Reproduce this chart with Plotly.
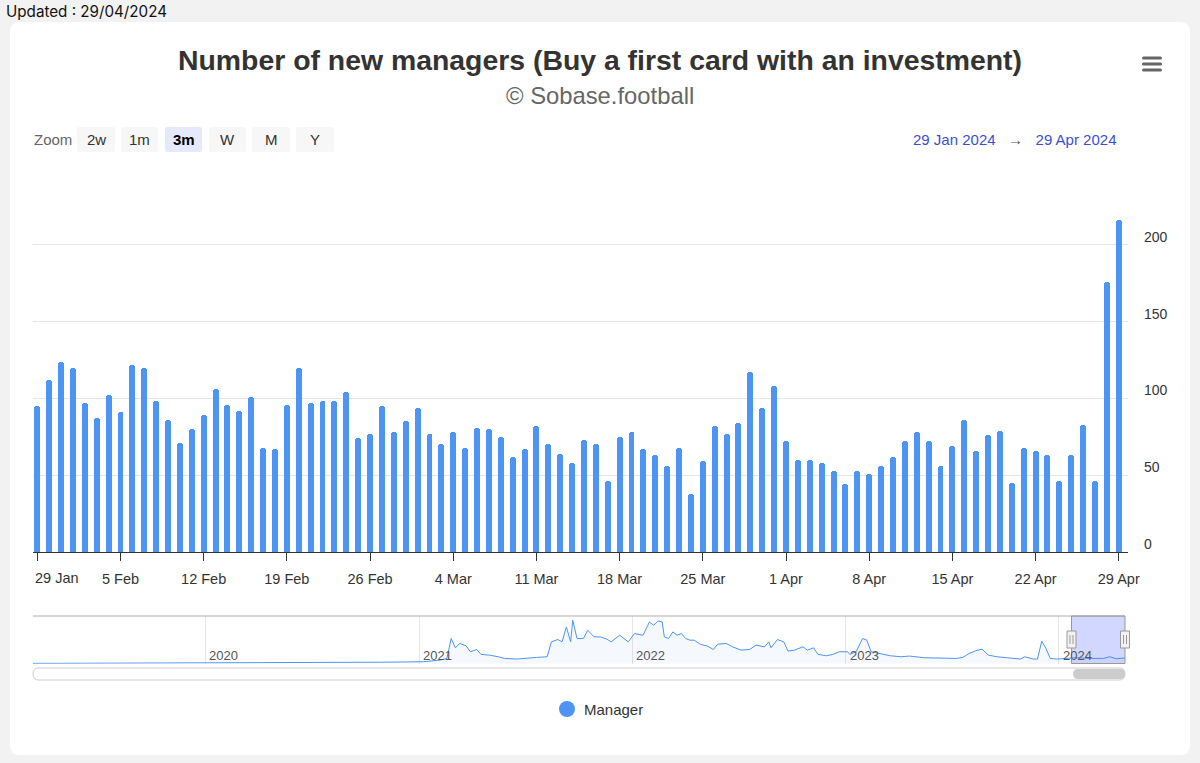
import plotly.graph_objects as go
import pandas as pd
from datetime import datetime, timedelta

W, H = 1200, 763

# ---------------- data ----------------
START_DATE = "2024-01-29"
END_DATE = "2024-04-29"
managers = [95, 112, 124, 120, 97, 87, 102, 91, 122, 120, 98, 86, 71, 80, 89, 106,
            96, 92, 101, 68, 67, 96, 120, 97, 98, 98, 104, 74, 77, 95, 78, 85,
            94, 77, 70, 78, 68, 81, 80, 75, 62, 67, 82, 70, 64, 58, 73, 70,
            46, 75, 78, 67, 63, 56, 68, 38, 59, 82, 77, 84, 117, 94, 108, 72,
            60, 60, 58, 53, 44, 53, 51, 56, 62, 72, 78, 72, 56, 69, 86, 66,
            76, 79, 45, 68, 66, 63, 46, 63, 83, 46, 176, 216]
week_ticks = ["2024-01-29", "2024-02-05", "2024-02-12", "2024-02-19", "2024-02-26",
              "2024-03-04", "2024-03-11", "2024-03-18", "2024-03-25", "2024-04-01",
              "2024-04-08", "2024-04-15", "2024-04-22", "2024-04-29"]
week_labels = ["29 Jan", "5 Feb", "12 Feb", "19 Feb", "26 Feb", "4 Mar", "11 Mar",
               "18 Mar", "25 Mar", "1 Apr", "8 Apr", "15 Apr", "22 Apr", "29 Apr"]
y_ticks = [0, 50, 100, 150, 200, 250]
y_ticktext = ["0", "50", "100", "150", "200", ""]

# navigator (overview since 2019): decimal year, value
nav_year = [2019.19, 2019.60, 2020.00, 2020.44, 2020.82, 2020.96, 2021.02, 2021.10,
            2021.13, 2021.15, 2021.17, 2021.19, 2021.22, 2021.24, 2021.27, 2021.29,
            2021.33, 2021.37, 2021.40, 2021.46, 2021.51, 2021.55, 2021.60, 2021.62,
            2021.65, 2021.67, 2021.69, 2021.71, 2021.72, 2021.74, 2021.77, 2021.79,
            2021.82, 2021.85, 2021.88, 2021.90, 2021.94, 2021.96, 2021.98, 2022.01,
            2022.05, 2022.08, 2022.10, 2022.12, 2022.14, 2022.15, 2022.17, 2022.19,
            2022.21, 2022.23, 2022.25, 2022.27, 2022.29, 2022.32, 2022.35, 2022.38,
            2022.40, 2022.44, 2022.47, 2022.51, 2022.55, 2022.58, 2022.62, 2022.64,
            2022.65, 2022.68, 2022.71, 2022.73, 2022.76, 2022.80, 2022.82, 2022.85,
            2022.87, 2022.91, 2022.94, 2022.97, 2023.01, 2023.02, 2023.05, 2023.08,
            2023.10, 2023.12, 2023.16, 2023.21, 2023.26, 2023.30, 2023.37, 2023.44,
            2023.52, 2023.55, 2023.58, 2023.61, 2023.64, 2023.67, 2023.71, 2023.76,
            2023.82, 2023.84, 2023.88, 2023.90, 2023.92, 2023.94, 2023.96, 2023.99,
            2024.04, 2024.08, 2024.15, 2024.21, 2024.24, 2024.27, 2024.32]
nav_value = [4, 6, 10, 14, 21, 25, 28, 51,
             74, 352, 222, 283, 250, 167, 199, 130,
             120, 97, 74, 65, 83, 88, 97, 306,
             338, 306, 514, 306, 607, 352, 352, 468,
             375, 375, 343, 306, 398, 352, 306, 422,
             398, 584, 537, 598, 584, 375, 352, 445,
             398, 422, 352, 329, 329, 269, 250, 199,
             273, 283, 236, 190, 199, 259, 236, 306,
             222, 338, 306, 176, 190, 236, 190, 222,
             130, 111, 130, 167, 167, 130, 167, 352,
             329, 167, 144, 111, 97, 107, 83, 74,
             74, 88, 144, 181, 204, 120, 97, 83,
             65, 97, 65, 65, 315, 213, 74, 65,
             74, 83, 74, 74, 97, 69, 83]
nav_years_marks = [2020, 2021, 2022, 2023, 2024]

# ---------------- styles ----------------
BAR = "#4D94F5"
TEXT = "#333333"
GRID = "#e6e6e6"
FONT = "Liberation Sans, Arial, sans-serif"


def to_date(y):
    yi = int(y)
    return datetime(yi, 1, 1) + timedelta(days=(y - yi) * 365.25)


def X(px):
    return px / W


def Y(py):
    return 1 - py / H


def rrect(x0, y0, x1, y1, r):
    return (f"M {X(x0+r)} {Y(y0)} L {X(x1-r)} {Y(y0)} Q {X(x1)} {Y(y0)} {X(x1)} {Y(y0+r)} "
            f"L {X(x1)} {Y(y1-r)} Q {X(x1)} {Y(y1)} {X(x1-r)} {Y(y1)} "
            f"L {X(x0+r)} {Y(y1)} Q {X(x0)} {Y(y1)} {X(x0)} {Y(y1-r)} "
            f"L {X(x0)} {Y(y0+r)} Q {X(x0)} {Y(y0)} {X(x0+r)} {Y(y0)} Z")


dates = pd.date_range(START_DATE, END_DATE, freq="D")
nav_dates = [to_date(v) for v in nav_year]

fig = go.Figure()
fig.add_trace(go.Bar(
    x=dates, y=managers, name="Manager",
    marker=dict(color=BAR, cornerradius=3, line=dict(width=0)),
    width=0.5 * 86400000, xaxis="x", yaxis="y", showlegend=False,
))
fig.add_trace(go.Scatter(
    x=nav_dates, y=nav_value, mode="lines",
    line=dict(color="#4D94F5", width=1),
    fill="tozeroy", fillcolor="rgba(77,148,245,0.06)",
    xaxis="x2", yaxis="y2", showlegend=False, hoverinfo="skip",
))

shapes = []
# card
shapes.append(dict(type="path", path=rrect(10, 22, 1190, 755, 10), xref="paper", yref="paper",
                   fillcolor="white", line=dict(width=0), layer="below"))
# zoom buttons
buttons = [("2w", 77, 115), ("1m", 121, 158), ("3m", 165, 202),
           ("W", 209, 246), ("M", 252, 290), ("Y", 296, 334)]
for lab, bx0, bx1 in buttons:
    shapes.append(dict(type="path", path=rrect(bx0, 127, bx1, 152, 2), xref="paper", yref="paper",
                       fillcolor="#e6e9fb" if lab == "3m" else "#f7f7f7",
                       line=dict(width=0), layer="below"))
# hamburger menu
for yy in (56.5, 62.5, 68.5):
    shapes.append(dict(type="path", path=rrect(1142, yy, 1162, yy + 3, 1.5), xref="paper", yref="paper",
                       fillcolor="#666666", line=dict(width=0)))
# navigator top outline
shapes.append(dict(type="line", xref="paper", yref="paper", x0=X(33), x1=X(1125), y0=Y(616), y1=Y(616),
                   line=dict(color="#b0b0b0", width=1)))
# navigator selection mask
shapes.append(dict(type="rect", xref="paper", yref="paper", x0=X(1071.5), x1=X(1125), y0=Y(663.5), y1=Y(616),
                   fillcolor="rgba(90,110,250,0.28)", line=dict(color="#999999", width=1), layer="above"))
# handles
for hx in (1071.5, 1125):
    shapes.append(dict(type="rect", xref="paper", yref="paper", x0=X(hx - 4.5), x1=X(hx + 4.5),
                       y0=Y(648), y1=Y(631), fillcolor="#f2f2f2", line=dict(color="#999999", width=1),
                       layer="above"))
    for dx in (-1.5, 1.5):
        shapes.append(dict(type="line", xref="paper", yref="paper", x0=X(hx + dx), x1=X(hx + dx),
                           y0=Y(644), y1=Y(635), line=dict(color="#999999", width=1), layer="above"))
# scrollbar track & thumb
shapes.append(dict(type="path", path=rrect(33, 668, 1125, 680, 6), xref="paper", yref="paper",
                   fillcolor="white", line=dict(color="#cccccc", width=1)))
shapes.append(dict(type="path", path=rrect(1073, 669, 1125, 679, 5), xref="paper", yref="paper",
                   fillcolor="#cccccc", line=dict(width=0)))
# legend symbol
shapes.append(dict(type="circle", xref="paper", yref="paper", x0=X(559), x1=X(575), y0=Y(717), y1=Y(701),
                   fillcolor=BAR, line=dict(width=0)))

ann = []
ann.append(dict(text="Updated : 29/04/2024", x=X(4), y=Y(11), xanchor="left", yanchor="middle",
                font=dict(family="Inter, Lato, sans-serif", size=15.2, color="#111111")))
ann.append(dict(text="<b>Number of new managers (Buy a first card with an investment)</b>", x=X(600), y=Y(60),
                xanchor="center", yanchor="middle", font=dict(family=FONT, size=28.4, color=TEXT)))
ann.append(dict(text="© Sobase.football", x=X(600), y=Y(96), xanchor="center", yanchor="middle",
                font=dict(family=FONT, size=23.8, color="#666666")))
ann.append(dict(text="Zoom", x=X(32), y=Y(139.5), xanchor="left", yanchor="middle",
                font=dict(family=FONT, size=15, color="#666666")))
for lab, bx0, bx1 in buttons:
    ann.append(dict(text=f"<b>{lab}</b>" if lab == "3m" else lab, x=X((bx0 + bx1) / 2), y=Y(139.5),
                    xanchor="center", yanchor="middle",
                    font=dict(family=FONT, size=15, color="#000000" if lab == "3m" else TEXT)))
ann.append(dict(text="29 Jan 2024 <span style='color:#555555'>  →  </span> 29 Apr 2024", x=X(1119), y=Y(139.5),
                xanchor="right", yanchor="middle", font=dict(family=FONT, size=15, color="#3b4fd4")))
# first x label is justified inside the plot area (as the original does)
ann.append(dict(text=week_labels[0], x=X(32.5), y=Y(578), xanchor="left", yanchor="middle",
                font=dict(family=FONT, size=14.5, color=TEXT)))
for yr in nav_years_marks:
    ann.append(dict(text=str(yr), x=datetime(yr, 1, 1), xref="x2", y=Y(655), yref="paper",
                    xanchor="left", yanchor="middle", xshift=2,
                    font=dict(family=FONT, size=13, color="#555555")))
ann.append(dict(text="Manager", x=X(582), y=Y(709), xanchor="left", yanchor="middle",
                font=dict(family=FONT, size=15, color=TEXT)))
for a in ann:
    a.setdefault("xref", "paper")
    a.setdefault("yref", "paper")
    a["showarrow"] = False

fig.update_layout(
    width=W, height=H,
    margin=dict(l=0, r=0, t=0, b=0, autoexpand=False),
    paper_bgcolor="#f2f2f2",
    plot_bgcolor="rgba(0,0,0,0)",
    font=dict(family=FONT, color=TEXT),
    bargap=0,
    shapes=shapes,
    annotations=ann,
    showlegend=False,
    xaxis=dict(
        domain=[X(33), X(1128)], anchor="y", type="date", automargin=False,
        range=["2024-01-28 15:20", "2024-04-29 18:40"],
        tickvals=week_ticks, ticktext=[""] + week_labels[1:],
        ticks="outside", ticklen=8, tickcolor=TEXT, tickwidth=1,
        showline=True, linecolor=TEXT, linewidth=1,
        showgrid=False, zeroline=False,
        tickfont=dict(size=14.5, color=TEXT), ticklabelstandoff=6,
        fixedrange=True,
    ),
    yaxis=dict(
        domain=[Y(552), Y(168)], anchor="x", side="right", automargin=False,
        range=[0, 250], tickvals=y_ticks, ticktext=y_ticktext,
        showgrid=True, gridcolor=GRID, gridwidth=1, zeroline=False, showline=False,
        tickfont=dict(size=14, color=TEXT), ticklabelstandoff=15, ticklabelshift=-8,
        fixedrange=True,
    ),
    xaxis2=dict(
        domain=[X(33), X(1125)], anchor="y2", type="date", automargin=False,
        range=[to_date(2019.191), to_date(2024.311)],
        tickvals=[datetime(y, 1, 1) for y in nav_years_marks],
        showticklabels=False, ticks="", showgrid=True, gridcolor=GRID,
        showline=False, zeroline=False, fixedrange=True,
    ),
    yaxis2=dict(
        domain=[Y(663.7), Y(616)], anchor="x2", range=[0, 667], automargin=False,
        visible=False, fixedrange=True,
    ),
)

fig.write_html(
    "out.html",
    post_script="document.body.style.margin='0';document.body.style.overflow='hidden';",
)
